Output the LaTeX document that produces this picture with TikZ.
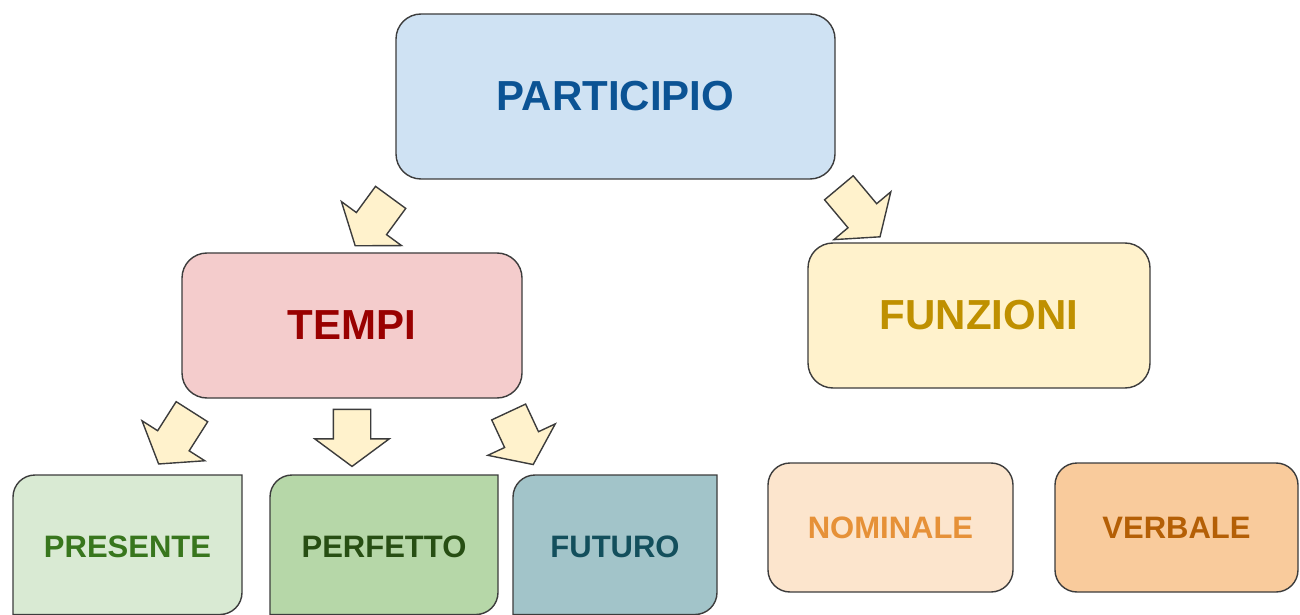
\documentclass[tikz,border=0pt]{standalone}
\usepackage{fontspec}
\setmainfont{Liberation Sans}
\usetikzlibrary{shapes.arrows,calc}
\definecolor{edge}{HTML}{3C3C3C}
\definecolor{partfill}{HTML}{CFE2F3}\definecolor{parttext}{HTML}{0B5394}
\definecolor{tempfill}{HTML}{F4CCCC}\definecolor{temptext}{HTML}{990000}
\definecolor{funzfill}{HTML}{FFF2CC}\definecolor{funztext}{HTML}{BF9000}
\definecolor{presfill}{HTML}{D9EAD3}\definecolor{prestext}{HTML}{38761D}
\definecolor{perffill}{HTML}{B6D7A8}\definecolor{perftext}{HTML}{274E13}
\definecolor{futfill}{HTML}{A2C4C9}\definecolor{futtext}{HTML}{134F5C}
\definecolor{nomfill}{HTML}{FCE5CD}\definecolor{nomtext}{HTML}{E69138}
\definecolor{verbfill}{HTML}{F9CB9C}\definecolor{verbtext}{HTML}{B45F06}
\definecolor{arrfill}{HTML}{FFF2CC}
\tikzset{
  bigbox/.style={draw=edge, line width=1.4pt, rounded corners=25pt, inner sep=0pt,
    font=\fontsize{42}{50}\selectfont\bfseries},
  smallbox/.style={draw=edge, line width=1.4pt, rounded corners=22pt, inner sep=0pt,
    font=\fontsize{31}{37}\selectfont\bfseries},
  tabbox/.style={inner sep=0pt, font=\fontsize{31}{37}\selectfont\bfseries},
  tabline/.style={draw=edge, line width=1.4pt},
  blockarrow/.style={single arrow, draw=edge, fill=arrfill, line width=1.4pt,
    inner sep=18pt, minimum height=57pt, minimum width=73pt,
    single arrow head extend=18.5pt, single arrow tip angle=107}
}
\begin{document}
\begin{tikzpicture}[x=1pt,y=1pt]
\useasboundingbox (0,0) rectangle (1300,614);
% main boxes
\node[bigbox, fill=partfill, text=parttext, minimum width=439pt, minimum height=165pt] (part) at (615.5,517.5) {PARTICIPIO};
\node[bigbox, fill=tempfill, text=temptext, minimum width=340pt, minimum height=145pt] (tempi) at (352,288.5) {TEMPI};
\node[bigbox, fill=funzfill, text=funztext, minimum width=342pt, minimum height=145pt] (funz) at (979,298.5) {FUNZIONI};
% tab-shaped boxes (rounded top-left and bottom-right)
\foreach \nm/\cx/\w/\fc in {pres/127.5/229/presfill, perf/384/228/perffill, fut/615/204/futfill}{
  \coordinate (\nm-c) at (\cx,69.5);
  \path[tabline, fill=\fc] ($(\nm-c)+(-\w/2,-70)$) -- ($(\nm-c)+(-\w/2,47.5)$)
     arc[start angle=180,end angle=90,radius=22] -- ($(\nm-c)+(\w/2,69.5)$)
     -- ($(\nm-c)+(\w/2,-48)$) arc[start angle=0,end angle=-90,radius=22] -- cycle;
}
\node[tabbox, text=prestext] (pres) at (127.5,67) {PRESENTE};
\node[tabbox, text=perftext] (perf) at (384,67) {PERFETTO};
\node[tabbox, text=futtext] (fut) at (615,67) {FUTURO};
\node[smallbox, fill=nomfill, text=nomtext, minimum width=245pt, minimum height=129pt] (nom) at (890.5,86.5) {NOMINALE};
\node[smallbox, fill=verbfill, text=verbtext, minimum width=243pt, minimum height=129pt] (verb) at (1176.5,86.5) {VERBALE};
% block arrows
\node[blockarrow, rotate=233.8, minimum height=60pt] (a1) at (377,398) {};
\node[blockarrow, rotate=-50, minimum height=64pt] (a2) at (855,407) {};
\node[blockarrow, rotate=237.5, minimum height=62pt] (a3) at (179,182) {};
\node[blockarrow, rotate=-90] (a4) at (352,183) {};
\node[blockarrow, rotate=-65, minimum height=58pt] (a5) at (518,182) {};
\end{tikzpicture}
\end{document}
